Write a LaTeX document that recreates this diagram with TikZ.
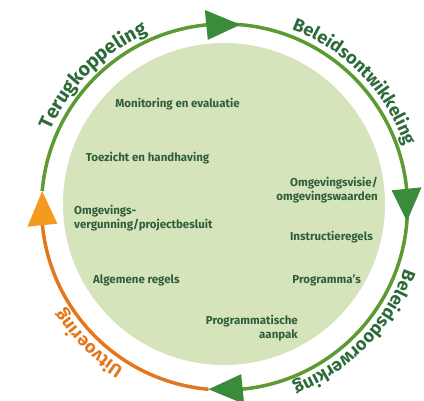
\documentclass[tikz,border=0pt]{standalone}
\usepackage{fontspec}
\setmainfont{Fira Sans}
\usetikzlibrary{decorations.text}
\definecolor{disc}{HTML}{D6E4BC}
\definecolor{arcgreen}{HTML}{5C9A32}
\definecolor{arrowgreen}{HTML}{3A8B3A}
\definecolor{arcorange}{HTML}{E3771D}
\definecolor{arroworange}{HTML}{F49B1F}
\definecolor{innertext}{HTML}{2E5F3A}
\definecolor{labelgreen}{HTML}{2D6A3A}
\newcommand\curvefont{\bfseries\fontsize{18}{20}\selectfont}
\newcommand\curvefontbig{\bfseries\fontsize{19.5}{22}\selectfont}
\begin{document}
\begin{tikzpicture}[x=1pt,y=1pt,
  inner/.style={font=\bfseries\fontsize{11.5}{14}\selectfont, text=innertext, inner sep=0pt},
  ringline/.style={line width=3.5pt},
  curvelabel/.style={decorate, decoration={text along path, text align=center, text color=#1}}
]
\useasboundingbox (-224.5,-194) rectangle (199.5,207);
\fill[disc] (-0.5,3) circle (161);
% ring
\draw[ringline, arcgreen] (175:183) arc[start angle=175, end angle=-90, radius=183];
\draw[ringline, arcorange] (265:183) arc[start angle=265, end angle=185, radius=183];
% arrowheads
\fill[arrowgreen] (95.7:168) -- (95.7:198) -- (85:183) -- cycle;
\fill[arrowgreen] (5.7:168) -- (5.7:198) -- (-4.5:183) -- cycle;
\fill[arrowgreen] (275.7:168) -- (275.7:198) -- (265:183) -- cycle;
\fill[arroworange] (185.7:168) -- (185.7:198) -- (175:183) -- cycle;
% curved labels
\path[curvelabel=labelgreen, decoration={text={|\curvefontbig|Terugkoppeling}}]
  (167:190) arc[start angle=167, end angle=103, radius=190];
\path[curvelabel=labelgreen, decoration={text={|\curvefont|Beleidsontwikkeling}}]
  (82:190) arc[start angle=82, end angle=6, radius=190];
\path[curvelabel=labelgreen, decoration={text={|\curvefont|Beleidsdoorwerking}}]
  (-6:190) arc[start angle=-6, end angle=-82, radius=190];
\path[curvelabel=arcorange, decoration={text={|\curvefont|Uitvoering}}]
  (256:190) arc[start angle=256, end angle=194, radius=190];
% inner texts
\node[inner] (mon) at (-47,103) {Monitoring en evaluatie};
\node[inner] (toe) at (-77,49) {Toezicht en handhaving};
\node[inner, anchor=east, align=right] (ovi) at (153.5,17) {Omgevingsvisie/\\omgevingswaarden};
\node[inner, anchor=east] (ins) at (148.5,-30) {Instructieregels};
\node[inner, anchor=east] (pro) at (136.5,-73) {Programma’s};
\node[inner, anchor=east, align=right] (pra) at (73.5,-121) {Programmatische\\aanpak};
\node[inner, anchor=west, align=left] (ovg) at (-150.5,-11) {Omgevings-\\vergunning/projectbesluit};
\node[inner, anchor=west] (alg) at (-131.5,-73) {Algemene regels};
\end{tikzpicture}
\end{document}
